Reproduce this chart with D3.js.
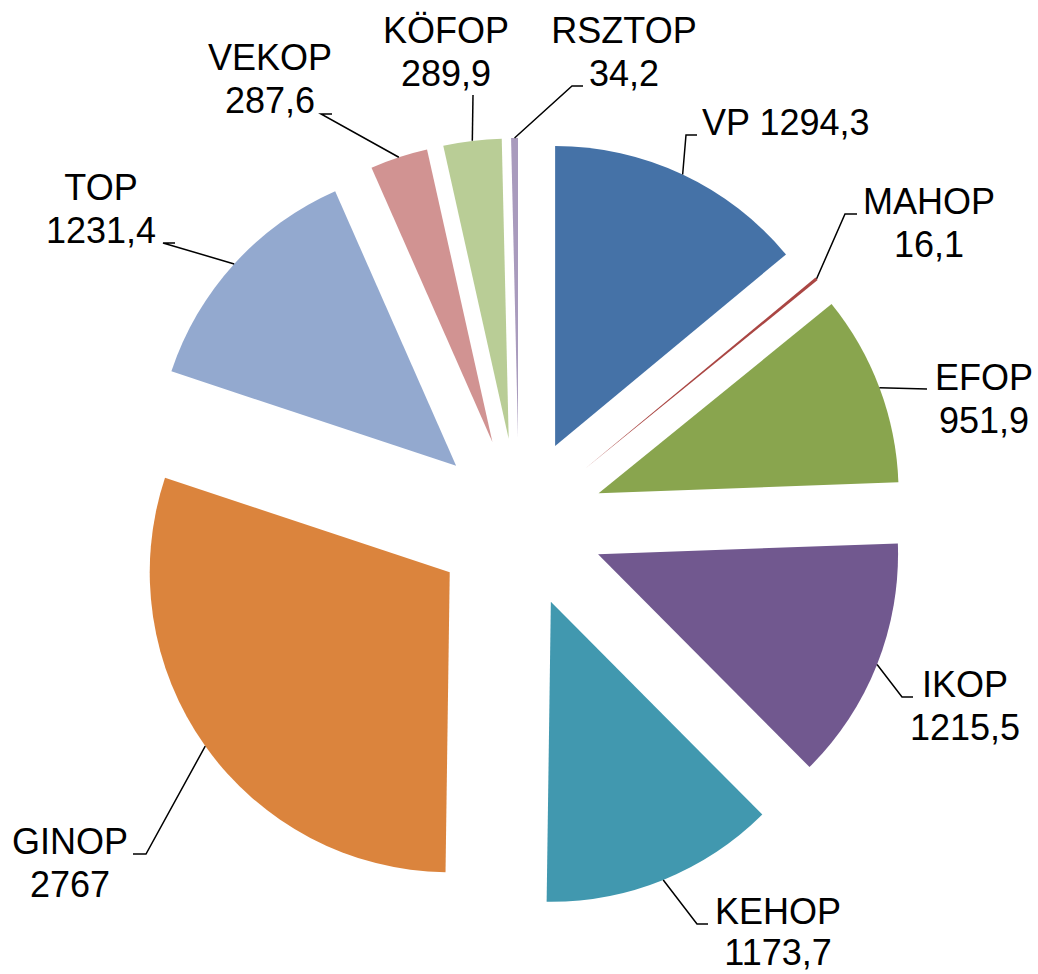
<!DOCTYPE html>
<html>
<head>
<meta charset="utf-8">
<script src="https://cdn.jsdelivr.net/npm/d3@7"></script>
<style>
  body { margin: 0; background: #fff; }
  text { font-family: "Liberation Sans", Arial, sans-serif; font-size: 36px; fill: #000; }
</style>
</head>
<body>
<script>
"use strict";

// données du graphique
const names  = ["VP", "MAHOP", "EFOP", "IKOP", "KEHOP", "GINOP", "TOP", "VEKOP", "KÖFOP", "RSZTOP"];
const values = [1294.3, 16.1, 951.9, 1215.5, 1173.7, 2767, 1231.4, 287.6, 289.9, 34.2];
const labels = ["1294,3", "16,1", "951,9", "1215,5", "1173,7", "2767", "1231,4", "287,6", "289,9", "34,2"];
const colors = ["#4572A7", "#AA4643", "#89A54E", "#71588F", "#4198AF",
                "#DB843D", "#93A9CF", "#D19392", "#B9CD96", "#A99BBD"];

// placement des étiquettes (centre x, ligne de base, coude de la ligne de rappel, bout horizontal)
const labelLayout = {
  "VP":     { x: 702, y: 135, oneLine: true, elbow: [686, 135], end: [697, 135] },
  "MAHOP":  { x: 929, y: 214, elbow: [845, 214], end: [857, 214] },
  "EFOP":   { x: 984, y: 390, elbow: [927, 389], end: [927, 389] },
  "IKOP":   { x: 965, y: 697, elbow: [902, 697], end: [913, 697] },
  "KEHOP":  { x: 778, y: 924, elbow: [697, 924], end: [708, 924], lh: 41 },
  "GINOP":  { x: 70,  y: 854, elbow: [146, 854], end: [133, 854] },
  "TOP":    { x: 101, y: 200, elbow: [163, 243], end: [175, 243] },
  "VEKOP":  { x: 270, y: 70,  elbow: [321, 114], end: [332, 114] },
  "KÖFOP":  { x: 446, y: 43,  elbow: [473, 95],  end: [473, 95] },
  "RSZTOP": { x: 624, y: 43,  elbow: [572, 86],  end: [583, 86] }
};

const width = 1038, height = 974;
const cx = 519, cy = 523, radius = 300, explode = 85, lineH = 43;

const svg = d3.select("body").append("svg")
  .attr("width", width)
  .attr("height", height);

const data = names.map((n, i) => ({ name: n, value: values[i], label: labels[i], color: colors[i] }));

const pie = d3.pie().sort(null).value(d => d.value);
const arc = d3.arc().innerRadius(0).outerRadius(radius);
const arcs = pie(data);

const g = svg.append("g").attr("transform", `translate(${cx},${cy})`);

// décalage de chaque part le long de sa bissectrice
function offset(d) {
  const a = (d.startAngle + d.endAngle) / 2;
  return [explode * Math.sin(a), -explode * Math.cos(a)];
}

g.selectAll("path.slice")
  .data(arcs)
  .enter()
  .append("path")
  .attr("class", "slice")
  .attr("fill", d => d.data.color)
  .attr("transform", d => { const o = offset(d); return `translate(${o[0]},${o[1]})`; })
  .attr("d", arc);

// lignes de rappel
arcs.forEach(d => {
  const L = labelLayout[d.data.name];
  const a = (d.startAngle + d.endAngle) / 2;
  const o = offset(d);
  const px = cx + o[0] + radius * Math.sin(a);
  const py = cy + o[1] - radius * Math.cos(a);
  svg.append("path")
    .attr("d", d3.line()([[px, py], L.elbow, L.end]))
    .attr("fill", "none")
    .attr("stroke", "#000")
    .attr("stroke-width", 1.5);
});

// étiquettes
arcs.forEach(d => {
  const L = labelLayout[d.data.name];
  if (L.oneLine) {
    svg.append("text")
      .attr("x", L.x)
      .attr("y", L.y)
      .attr("text-anchor", "start")
      .text(d.data.name + " " + d.data.label);
  } else {
    const t = svg.append("text").attr("text-anchor", "middle");
    t.append("tspan").attr("x", L.x).attr("y", L.y).text(d.data.name);
    t.append("tspan").attr("x", L.x).attr("y", L.y + (L.lh || lineH)).text(d.data.label);
  }
});
</script>
</body>
</html>
